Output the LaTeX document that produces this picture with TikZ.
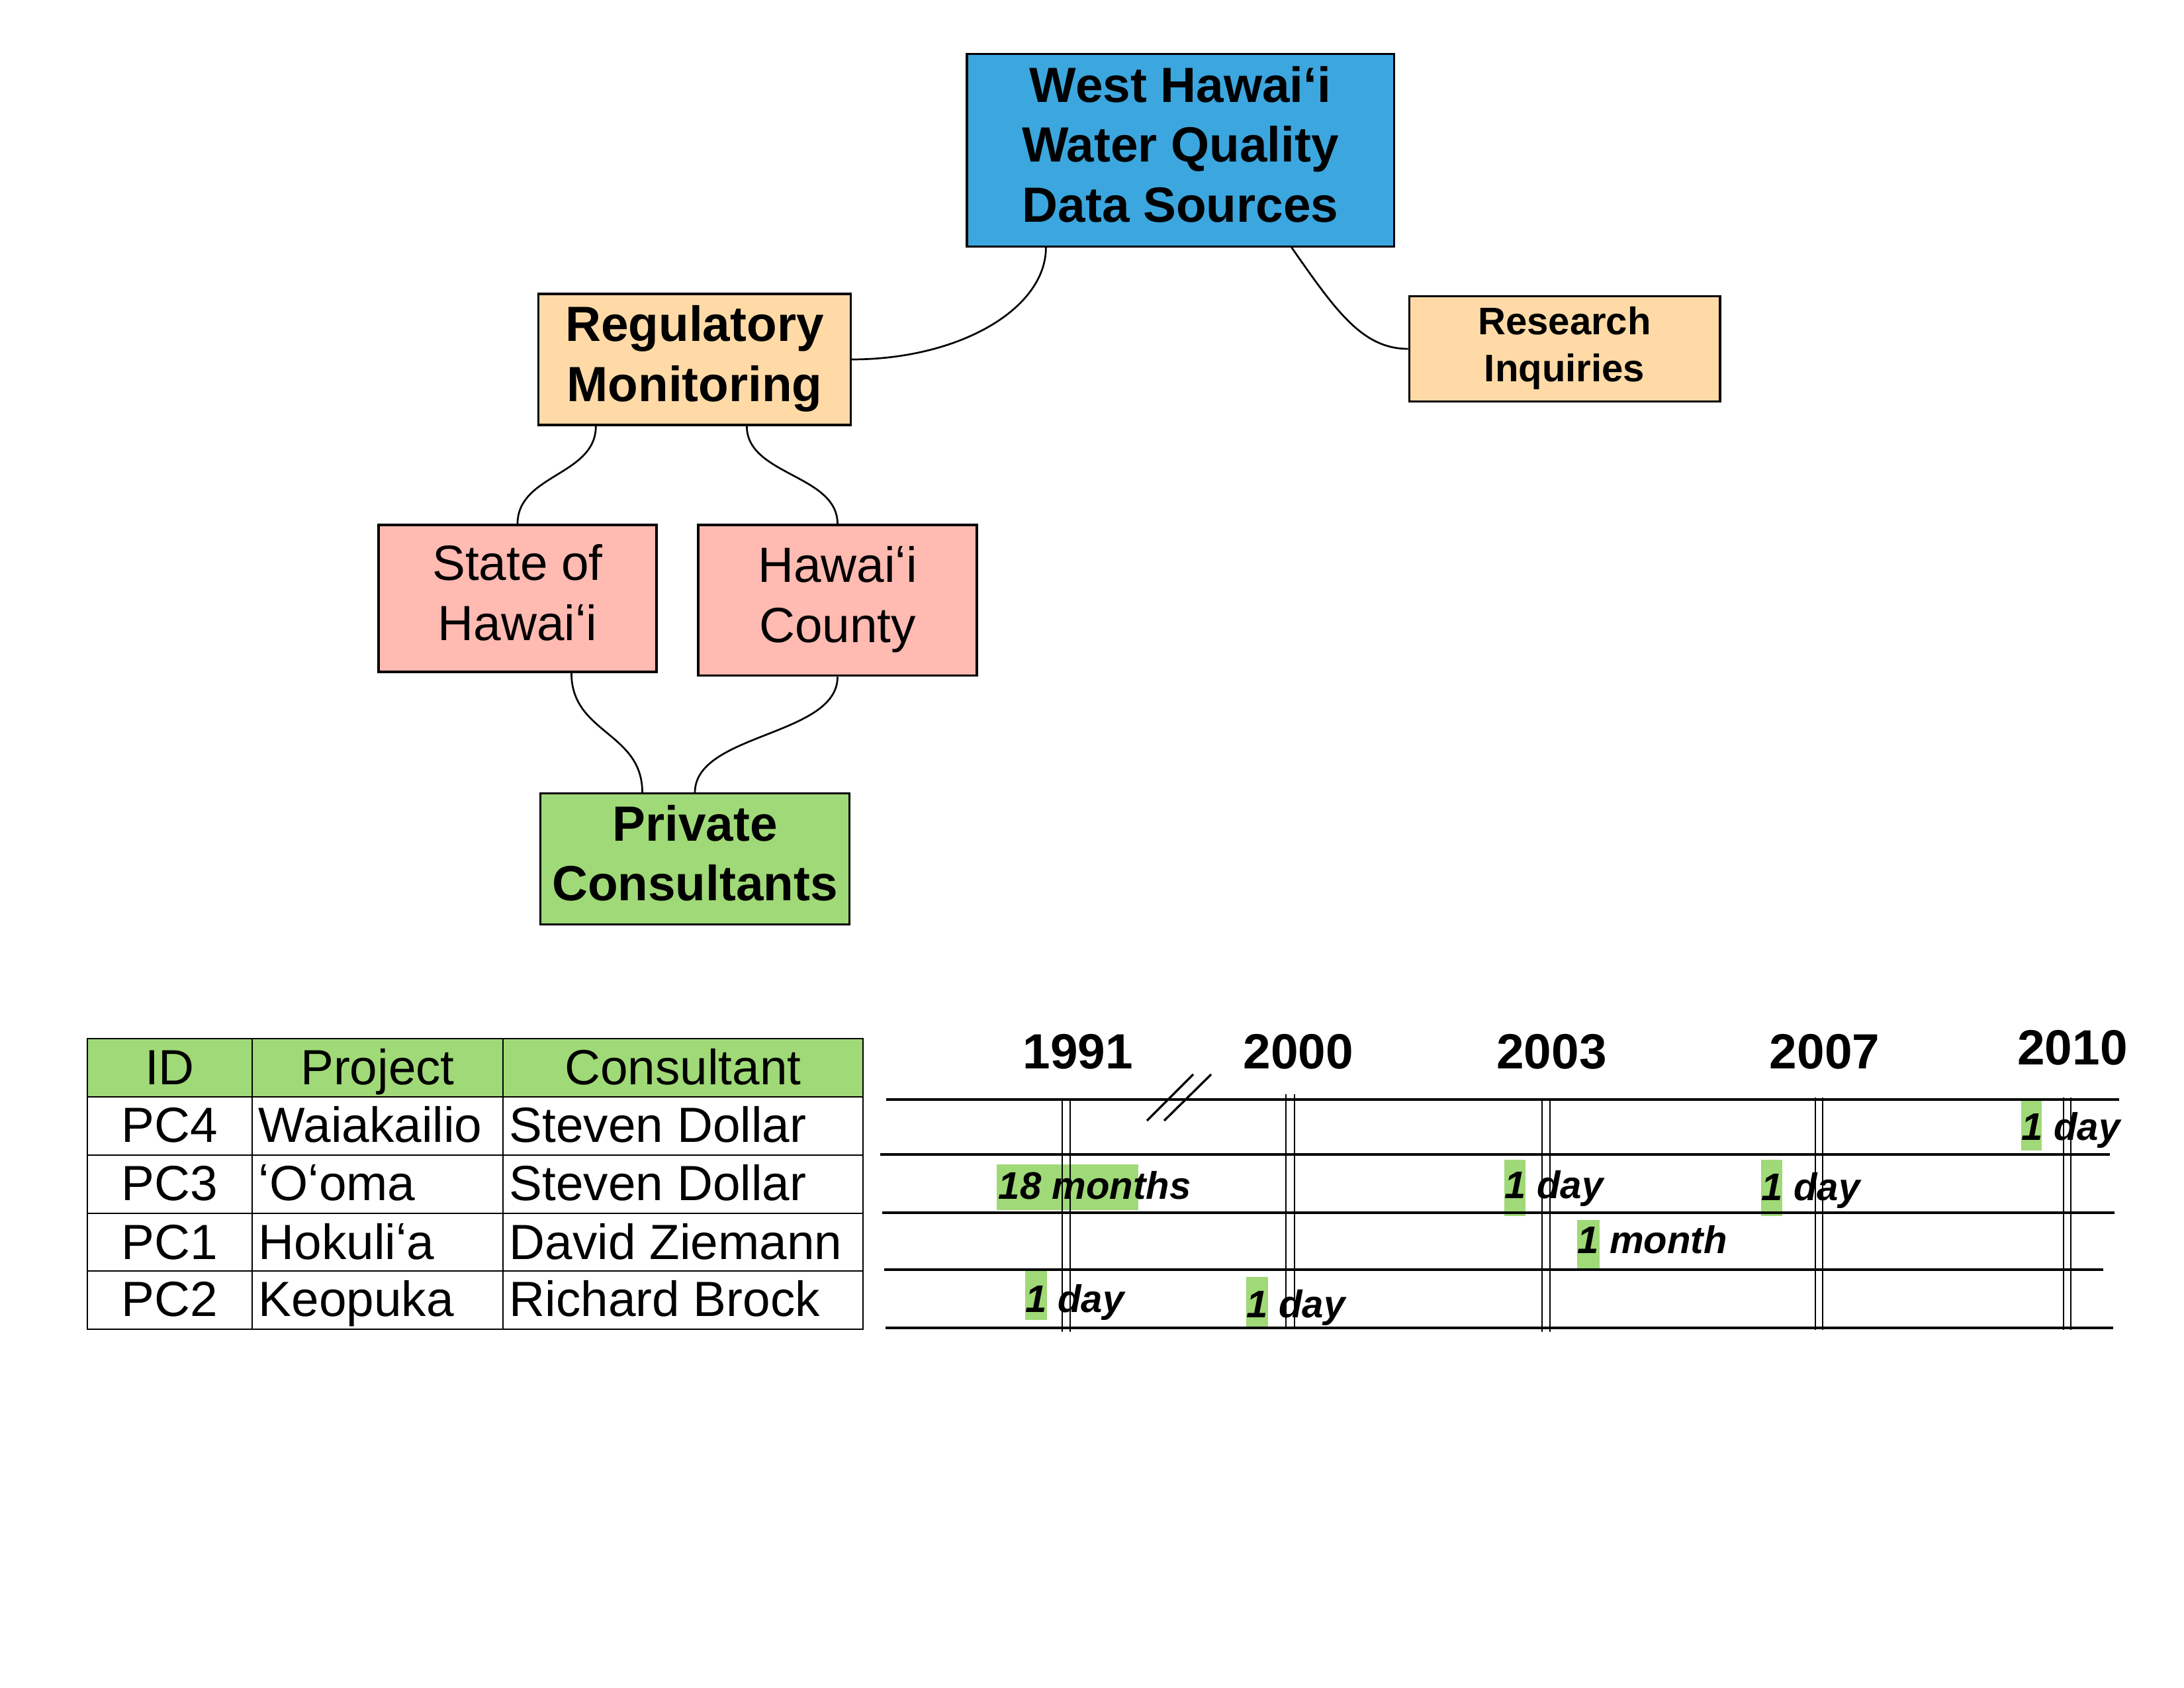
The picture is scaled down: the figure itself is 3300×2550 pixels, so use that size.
\documentclass[tikz,border=0pt]{standalone}
\usepackage{fontspec}
\setmainfont{Liberation Sans}
\usetikzlibrary{calc}
\definecolor{titleblue}{HTML}{3CA6DE}
\definecolor{peach}{HTML}{FFDAA6}
\definecolor{salmon}{HTML}{FFBAB1}
\definecolor{hlgreen}{HTML}{A0D977}
\begin{document}
\begin{tikzpicture}[x=0.2409pt,y=-0.2409pt,
  box/.style={draw=black, line width=0.75pt, inner sep=2pt, align=center},
  bigb/.style={font=\fontsize{18}{21.7}\selectfont\bfseries},
  bigr/.style={font=\fontsize{18}{21.7}\selectfont},
  conn/.style={draw=black, line width=0.65pt},
  tline/.style={line width=0.8pt},
  vline/.style={line width=0.6pt},
  lab/.style={font=\fontsize{14}{16.9}\selectfont\bfseries\itshape, anchor=base west, inner sep=0pt},
  yr/.style={font=\fontsize{18}{21.7}\selectfont\bfseries, anchor=base, inner sep=0pt},
  cell/.style={font=\fontsize{18}{21.7}\selectfont, inner sep=0pt},
  hl/.style={fill=hlgreen}]
\useasboundingbox (0,0) rectangle (3300,2550);

% ---------- hierarchy ----------
\node[box, bigb, fill=titleblue, minimum width=155.4pt, minimum height=69.9pt] (title) at (1783.5,227)
  {\strut West Hawaiʻi\\Water Quality\\Data Sources\strut};
\node[box, fill=peach, minimum width=113.2pt, minimum height=38.1pt,
      font=\fontsize{14}{16.9}\selectfont\bfseries] (research) at (2364,527)
  {\strut Research\\Inquiries\strut};
\node[box, bigb, fill=peach, minimum width=113.5pt, minimum height=47.7pt] (reg) at (1049.5,543)
  {\strut Regulatory\\Monitoring\strut};
\node[box, bigr, fill=salmon, minimum width=101.2pt, minimum height=53.5pt] (state) at (782,904)
  {\strut State of\\Hawaiʻi\strut};
\node[box, bigr, fill=salmon, minimum width=101.4pt, minimum height=54.9pt] (county) at (1265.5,907)
  {\strut Hawaiʻi\\County\strut};
\node[box, bigb, fill=hlgreen, minimum width=112.7pt, minimum height=47.5pt] (private) at (1050,1297.5)
  {\strut Private\\Consultants\strut};

\coordinate (t1) at ($(title.south west)+(121,0)$);
\coordinate (t2) at ($(title.south west)+(492,0)$);
\coordinate (r1) at ($(reg.south west)+(88,0)$);
\coordinate (r2) at ($(reg.south west)+(316,0)$);
\coordinate (s1) at ($(state.south west)+(293,0)$);
\coordinate (p1) at ($(private.north west)+(156,0)$);

\draw[conn] (t1) .. controls +(0,93) and +(163,0) .. (reg.east);
\draw[conn] (t2) .. controls +(67,96) and +(-69,0) .. (research.west);
\draw[conn] (r1) .. controls +(0,75) and +(0,-75) .. (state.north);
\draw[conn] (r2) .. controls +(0,75) and +(0,-75) .. (county.north);
\draw[conn] (s1) .. controls +(0,92) and +(0,-92) .. (p1);
\draw[conn] (county.south) .. controls +(0,90) and +(0,-90) .. (private.north);

% ---------- table ----------
\fill[hlgreen] (132,1569) rectangle (1304,1657);
\draw[line width=0.5pt] (132,1569) rectangle (1304,2008);
\foreach \yy in {1657,1745,1833,1920} \draw[line width=0.5pt] (132,\yy) -- (1304,\yy);
\draw[line width=0.5pt] (381,1569) -- (381,2008);
\draw[line width=0.5pt] (760,1569) -- (760,2008);

\node[cell, anchor=base] (hid) at (256.5,1639) {ID};
\node[cell, anchor=base] (hproj) at (570.5,1639) {Project};
\node[cell, anchor=base] (hcons) at (1032,1639) {Consultant};

\node[cell, anchor=base] (id4) at (256.5,1726) {PC4};
\node[cell, anchor=base] (id3) at (256.5,1813) {PC3};
\node[cell, anchor=base] (id1) at (256.5,1902) {PC1};
\node[cell, anchor=base] (id2) at (256.5,1988) {PC2};

\node[cell, anchor=base west] (pj4) at (390,1726) {Waiakailio};
\node[cell, anchor=base west] (pj3) at (390,1813) {ʻOʻoma};
\node[cell, anchor=base west] (pj1) at (390,1902) {Hokuliʻa};
\node[cell, anchor=base west] (pj2) at (390,1988) {Keopuka};

\node[cell, anchor=base west] (cn4) at (769,1726) {Steven Dollar};
\node[cell, anchor=base west] (cn3) at (769,1813) {Steven Dollar};
\node[cell, anchor=base west] (cn1) at (769,1902) {David Ziemann};
\node[cell, anchor=base west] (cn2) at (769,1988) {Richard Brock};

% ---------- timeline ----------
\fill[hl] (3054,1663) rectangle (3085,1738);
\fill[hl] (1506,1759) rectangle (1720,1828);
\fill[hl] (2273,1752) rectangle (2305,1837);
\fill[hl] (2661,1752) rectangle (2693,1837);
\fill[hl] (2383,1843) rectangle (2417,1917);
\fill[hl] (1549,1920) rectangle (1582,1994);
\fill[hl] (1883,1929) rectangle (1916,2006);

\draw[tline] (1339,1661) -- (3202,1661);
\draw[tline] (1330,1744) -- (3188,1744);
\draw[tline] (1333,1832) -- (3195,1832);
\draw[tline] (1336,1918) -- (3178,1918);
\draw[tline] (1338,2006) -- (3193,2006);

\draw[vline] (1605,1663) -- (1605,2012) (1617,1663) -- (1617,2012);
\draw[vline] (1943,1653) -- (1943,2004) (1956,1653) -- (1956,2004);
\draw[vline] (2330,1663) -- (2330,2012) (2342,1663) -- (2342,2012);
\draw[vline] (2743,1658) -- (2743,2009) (2754,1658) -- (2754,2009);
\draw[vline] (3118,1658) -- (3118,2009) (3129,1658) -- (3129,2009);

\draw[tline] (1733,1693) -- (1803,1623);
\draw[tline] (1759,1693) -- (1830,1623);

\node[yr] (y1991) at (1629,1615) {1991};
\node[yr] (y2000) at (1962,1615) {2000};
\node[yr] (y2003) at (2344.5,1615) {2003};
\node[yr] (y2007) at (2757,1615) {2007};
\node[yr] (y2010) at (3131.5,1609) {2010};

\node[lab] (l1) at (3054,1723) {1 day};
\node[lab] (l2) at (1508,1811) {18 months};
\node[lab] (l3) at (2273,1810) {1 day};
\node[lab] (l4) at (2661,1813) {1 day};
\node[lab] (l5) at (2383,1893) {1 month};
\node[lab] (l6) at (1549,1982) {1 day};
\node[lab] (l7) at (1883,1990) {1 day};
\end{tikzpicture}
\end{document}
